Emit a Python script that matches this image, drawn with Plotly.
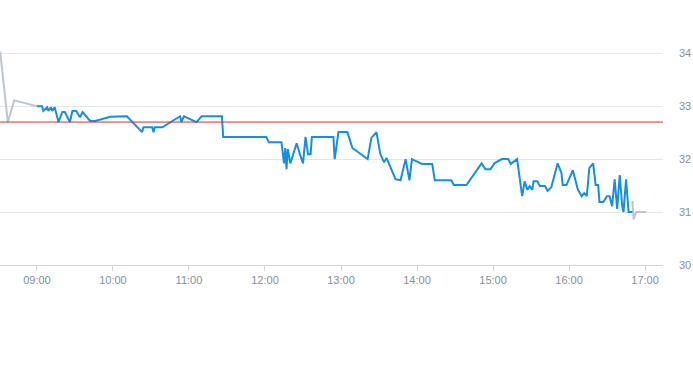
import plotly.graph_objects as go

DAY = "2024-01-02 "

pre_times = ["08:31", "08:37", "08:42", "09:00"]
pre_values = [34.03, 32.70, 33.11, 33.00]

session_times = [
    "09:00", "09:04", "09:05", "09:08", "09:09", "09:11", "09:12", "09:14", "09:17", "09:20",
    "09:22", "09:26", "09:28", "09:31", "09:34", "09:36", "09:42", "09:46", "09:58", "10:11",
    "10:23", "10:24", "10:31", "10:32", "10:33", "10:39", "10:53", "10:54", "10:56", "11:06",
    "11:10", "11:26", "11:27", "12:01", "12:03", "12:13", "12:15", "12:16", "12:17", "12:18",
    "12:20", "12:22", "12:25", "12:28", "12:30", "12:32", "12:34", "12:36", "12:37", "12:54",
    "12:55", "12:58", "13:05", "13:09", "13:21", "13:24", "13:28", "13:31", "13:34", "13:36",
    "13:43", "13:47", "13:51", "13:54", "13:56", "14:04", "14:12", "14:14", "14:27", "14:29",
    "14:39", "14:51", "14:54", "14:58", "15:01", "15:07", "15:12", "15:14", "15:19", "15:23",
    "15:25", "15:27", "15:29", "15:31", "15:32", "15:35", "15:37", "15:41", "15:43", "15:46",
    "15:48", "15:51", "15:54", "15:55", "15:58", "16:03", "16:07", "16:10", "16:12", "16:14",
    "16:16", "16:19", "16:21", "16:23", "16:24", "16:27", "16:30", "16:32", "16:34", "16:36",
    "16:38", "16:40", "16:42", "16:43", "16:45", "16:47", "16:50",
]
session_values = [
    33.00, 33.00, 32.91, 32.98, 32.91, 32.98, 32.91, 32.98, 32.70, 32.89,
    32.89, 32.70, 32.91, 32.91, 32.79, 32.89, 32.72, 32.72, 32.80, 32.81,
    32.51, 32.60, 32.60, 32.51, 32.60, 32.60, 32.81, 32.70, 32.81, 32.70,
    32.81, 32.81, 32.42, 32.42, 32.32, 32.32, 31.92, 32.21, 31.81, 32.19,
    31.92, 32.08, 32.30, 32.06, 31.92, 32.42, 32.09, 32.09, 32.42, 32.42,
    32.00, 32.51, 32.51, 32.21, 32.00, 32.40, 32.51, 32.10, 31.94, 32.02,
    31.62, 31.60, 32.00, 31.60, 32.00, 31.91, 31.91, 31.60, 31.60, 31.51,
    31.51, 31.92, 31.81, 31.81, 31.92, 32.00, 32.00, 31.91, 32.00, 31.30,
    31.58, 31.42, 31.49, 31.42, 31.58, 31.58, 31.49, 31.49, 31.40, 31.47,
    31.64, 31.92, 31.74, 31.51, 31.51, 31.79, 31.42, 31.30, 31.36, 31.30,
    31.83, 31.92, 31.51, 31.51, 31.19, 31.19, 31.30, 31.30, 31.11, 31.62,
    31.06, 31.70, 31.11, 31.00, 31.62, 31.00, 31.00,
]

post_times = ["16:50", "16:51", "16:53", "17:01"]
post_values = [31.21, 30.86, 31.00, 31.00]

prev_close = 32.70

y_ticks = [30, 31, 32, 33, 34]
x_range = ["08:30:50", "17:14:10"]
y_range = [30, 34.25]


def ts(lst):
    return [DAY + t for t in lst]


fig = go.Figure()
fig.add_trace(go.Scatter(x=ts(pre_times), y=pre_values, mode="lines",
                         line=dict(color="#bcc6cf", width=2), hoverinfo="skip"))
fig.add_trace(go.Scatter(x=ts(post_times), y=post_values, mode="lines",
                         line=dict(color="#bcc6cf", width=2), hoverinfo="skip"))
fig.add_trace(go.Scatter(x=ts(session_times), y=session_values, mode="lines",
                         line=dict(color="#168ee3", width=2)))
fig.add_hline(y=prev_close, line=dict(color="#d2302a", width=1))

fig.update_layout(
    width=693, height=365,
    margin=dict(l=0, r=30, t=40, b=100),
    paper_bgcolor="white", plot_bgcolor="white",
    showlegend=False,
    font=dict(family="Liberation Sans, Arial, sans-serif", size=11, color="#8391a0"),
    xaxis=dict(
        type="date",
        range=[DAY + x_range[0], DAY + x_range[1]],
        tick0=DAY + "09:00", dtick=3600000, tickformat="%H:%M",
        showgrid=False, showline=True, linecolor="#ccd6eb", linewidth=1,
        ticks="outside", ticklen=5, tickcolor="#ccd6eb",
        tickfont=dict(size=11, color="#8391a0"),
        zeroline=False,
    ),
    yaxis=dict(
        side="right", range=y_range, tickvals=y_ticks,
        showgrid=True, gridcolor="#e6e6e6", gridwidth=1,
        zeroline=False, showline=False,
        ticklabelstandoff=15,
        tickfont=dict(size=11, color="#8391a0"),
    ),
)

fig.write_html("out.html", config={"displayModeBar": False},
               post_script="document.body.style.margin='0';")
